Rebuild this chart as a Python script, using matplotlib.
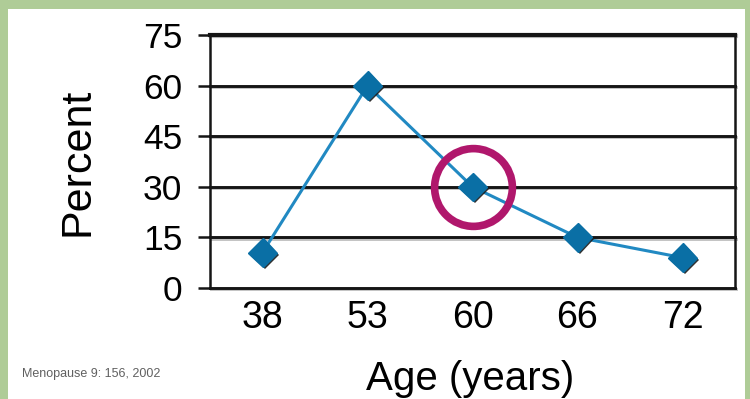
import matplotlib
matplotlib.use("Agg")
import matplotlib.pyplot as plt
import matplotlib.patheffects as pe
from matplotlib.patches import Rectangle

plt.rcParams['font.family'] = ['Liberation Sans', 'DejaVu Sans']

# data
ages = ["38", "53", "60", "66", "72"]
percent = [10.5, 60, 30, 15, 9]
highlight = "60"
y_ticks = [0, 15, 30, 45, 60, 75]

line_col = "#2189c2"
marker_col = "#0a6fa5"
ring_col = "#b0176c"
frame_green = "#afcc97"

fig = plt.figure(figsize=(7.5, 3.99), dpi=100, facecolor=frame_green)
# white panel inside the green border
fig.patches.append(Rectangle((8 / 750, 0), (745 - 8) / 750, 1 - 9 / 399,
                             transform=fig.transFigure, facecolor="white",
                             edgecolor="none", zorder=-10))

ax = fig.add_axes([210 / 750, 1 - 288 / 399, 525 / 750, 253 / 399])
ax.set_facecolor("white")

x = list(range(len(ages)))
ax.set_xlim(-0.5, len(ages) - 0.5)
ax.set_ylim(0, 75)

# horizontal rules
for v in y_ticks:
    ax.axhline(v, color="#151515", lw=3.0 if v == 75 else 2.1,
               zorder=1, clip_on=False,
               path_effects=[pe.SimpleLineShadow(offset=(0.6, -0.8), shadow_color="#999", alpha=0.6),
                             pe.Normal()])

ax.plot(x, percent, color=line_col, lw=2.2, zorder=3)
ax.plot(x, percent, ls="none", marker="D", ms=14.5, mfc=marker_col, mec=marker_col,
        zorder=4, clip_on=False,
        path_effects=[pe.SimplePatchShadow(offset=(1.5, -1.5), shadow_rgbFace="#1a1a1a", alpha=0.9),
                      pe.Normal()])

# ring around the highlighted age
i = ages.index(highlight)
ax.plot([x[i]], [percent[i]], ls="none", marker="o", ms=56, mfc="none",
        mec=ring_col, mew=5.5, zorder=5, clip_on=False)

for side in ["top", "bottom"]:
    ax.spines[side].set_visible(False)
for side in ["left", "right"]:
    ax.spines[side].set_linewidth(1.8)
    ax.spines[side].set_color("#151515")

ax.set_xticks(x)
ax.set_xticklabels(ages, fontsize=27)
ax.tick_params(axis="x", length=0, pad=9)
ax.set_yticks(y_ticks)
ax.set_yticklabels([str(v) for v in y_ticks], fontsize=25.5)
ax.tick_params(axis="y", length=9, width=1.8, color="#151515", pad=11)

fig.text(77 / 750, 1 - 162 / 399, "Percent", rotation=90, fontsize=31,
         ha="center", va="center")
fig.text(470 / 750, 1 - 390 / 399, "Age (years)", fontsize=29,
         ha="center", va="baseline")
fig.text(22 / 750, 1 - 377 / 399, "Menopause 9: 156, 2002", fontsize=9,
         color="#606060", ha="left", va="baseline")

fig.savefig("out.png", dpi=100, facecolor=fig.get_facecolor())
